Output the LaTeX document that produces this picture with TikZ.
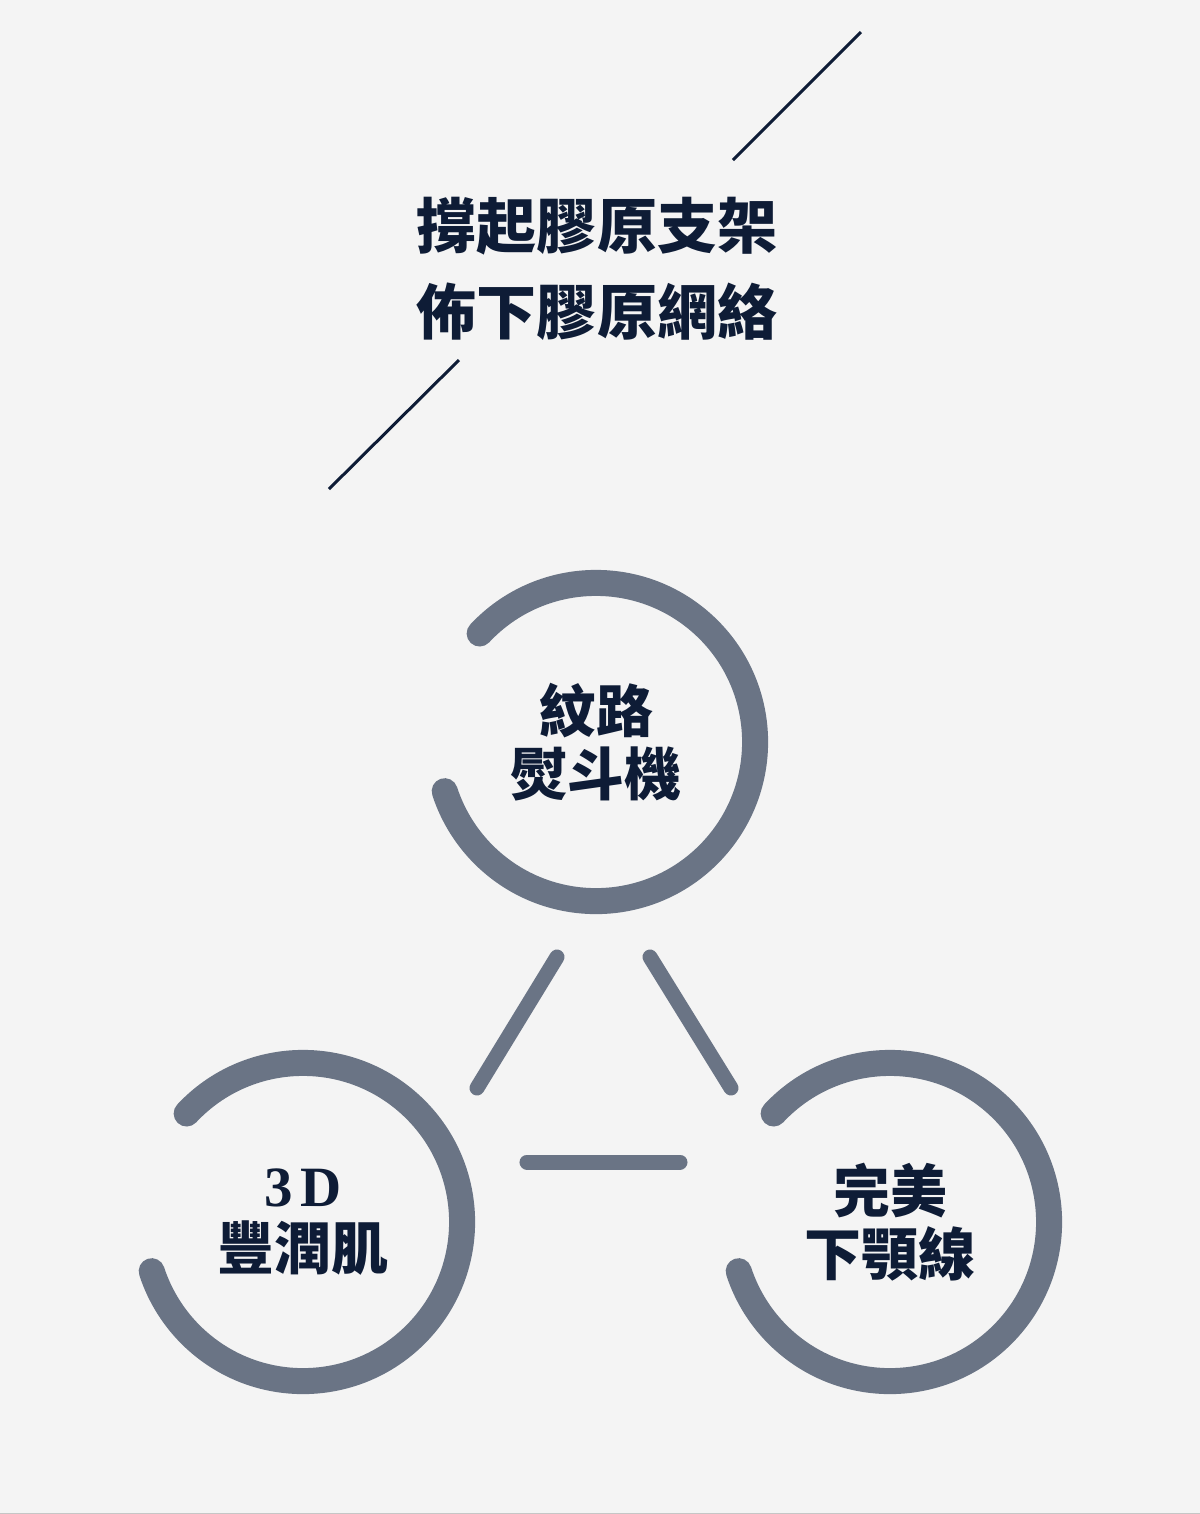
\documentclass[tikz,border=0pt]{standalone}
\usepackage{fontspec}
\usepackage{xcolor}
\newfontfamily\cjk{Noto Sans CJK TC}
\newfontfamily\latin{Liberation Serif}
\definecolor{navy}{HTML}{0E1C36}
\definecolor{slate}{HTML}{6A7485}
\definecolor{paper}{HTML}{F4F4F4}

\begin{document}
\begin{tikzpicture}[x=0.01cm,y=0.01cm,
  ring/.style={draw=slate,line width=0.26cm,line cap=round},
  bar/.style={draw=slate,line width=0.15cm,line cap=round},
  slash/.style={draw=navy,line width=0.03cm},
  headline/.style={text=navy,align=center,font=\cjk\bfseries\fontsize{17.07}{24.5}\selectfont},
  label/.style={text=navy,align=center,font=\cjk\bfseries\fontsize{16.2}{17.9}\selectfont}]
\fill[paper] (0,0) rectangle (1200,-1514);
\useasboundingbox (0,0) rectangle (1200,-1514);
\draw[gray!45,line width=0.01cm] (0,-1513.5) -- (1200,-1513.5);
\node[headline] (head) at (597,-269) {撐起膠原支架\\佈下膠原網絡};
\coordinate (ua) at (733,-160);
\coordinate (ub) at (861,-32);
\coordinate (la) at (329,-489);
\coordinate (lb) at (459,-360);
\draw[slash] (ua) -- (ub);
\draw[slash] (la) -- (lb);
\node[label] (iron) at (596,-742) {紋路\\熨斗機};
\node[label] (plump) at (303,-1222) {{\latin 3\kern0.12em D}\\豐潤肌};
\node[label] (jaw) at (890,-1222) {完美\\下顎線};
\foreach \c in {iron,plump,jaw}
  \draw[ring] ([shift={(137:1.59cm)}]\c.center) arc[start angle=137,end angle=-162,radius=1.59cm];
\coordinate (b1) at (557,-957);
\coordinate (b2) at (477,-1088);
\coordinate (b3) at (650,-957);
\coordinate (b4) at (731,-1088);
\coordinate (b5) at (527,-1162);
\coordinate (b6) at (680,-1162);
\draw[bar] (b1) -- (b2);
\draw[bar] (b3) -- (b4);
\draw[bar] (b5) -- (b6);
\end{tikzpicture}
\end{document}
